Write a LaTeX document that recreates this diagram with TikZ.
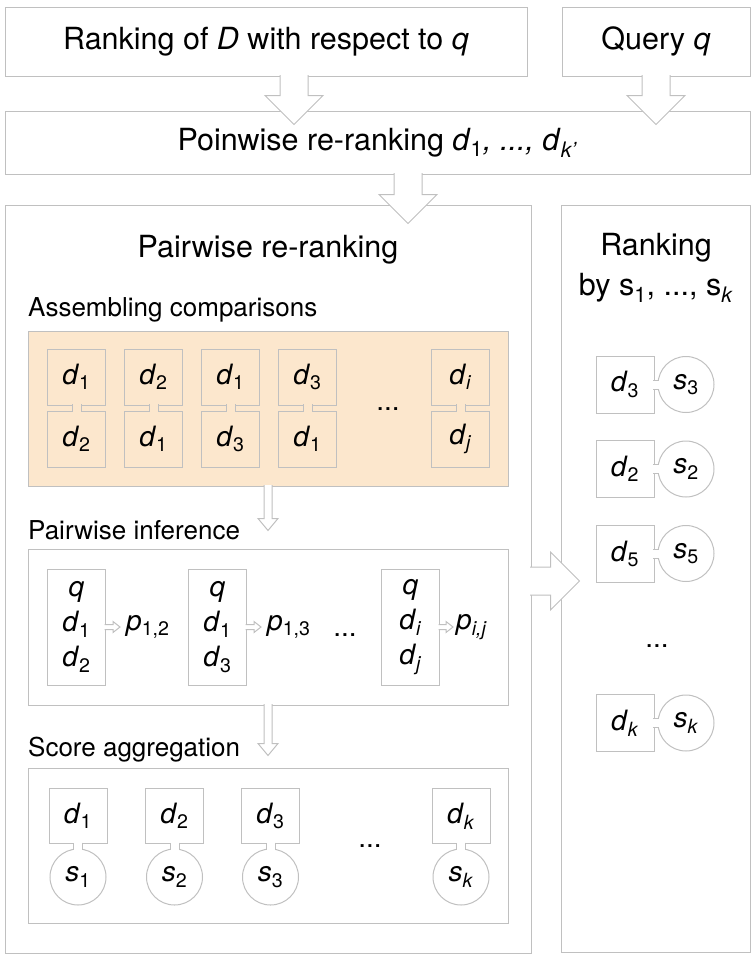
\documentclass[tikz,border=0pt]{standalone}
\usepackage{fontspec}
\setmainfont{TeX Gyre Heros}
\usetikzlibrary{calc,positioning}

\definecolor{linegray}{RGB}{192,192,192}
\definecolor{peach}{RGB}{252,231,205}

\newcommand{\docd}[1]{\textit{d}\textsubscript{#1}}
\newcommand{\scoresym}[1]{\textit{s}\textsubscript{#1}}

\tikzset{
  frame/.style={draw=linegray, line width=1pt, inner sep=0pt},
  title/.style={font=\fontsize{30.5}{40}\selectfont},
  section/.style={font=\fontsize{26}{30}\selectfont, anchor=west, inner sep=0pt},
  item/.style={frame, minimum width=58pt, minimum height=56pt,
    font=\fontsize{28}{35}\selectfont},
  score/.style={draw=linegray, line width=1pt, circle, minimum size=56pt,
    inner sep=0pt, font=\fontsize{28}{35}\selectfont},
  neck/.style={double=#1, double distance=8pt, draw=linegray, line width=1pt,
    shorten <=-1.5pt, shorten >=-1.5pt},
  neck/.default=white,
  fatdown/.style n args={3}{draw=linegray, line width=1pt, fill=white,
    to path={($(\tikztostart)+(-#1,0)$) -- ($(\tikztotarget)+(-#1,-#3)$)
      -- ($(\tikztotarget)+(-#2,-#3)$) -- (\tikztotarget)
      -- ($(\tikztotarget)+(#2,-#3)$) -- ($(\tikztotarget)+(#1,-#3)$)
      -- ($(\tikztostart)+(#1,0)$)}},
  fatright/.style n args={3}{draw=linegray, line width=1pt, fill=white,
    to path={($(\tikztostart)+(0,-#1)$) -- ($(\tikztotarget)+(-#3,-#1)$)
      -- ($(\tikztotarget)+(-#3,-#2)$) -- (\tikztotarget)
      -- ($(\tikztotarget)+(-#3,#2)$) -- ($(\tikztotarget)+(-#3,#1)$)
      -- ($(\tikztostart)+(0,#1)$)}},
  bigdown/.style={fatdown={14}{29}{29}},
  smalldown/.style={fatdown={4}{10}{12}},
  bigright/.style={fatright={14}{29}{29}},
  tinyright/.style={fatright={2.5}{5.5}{7}},
  plabel/.style={inner sep=0pt, font=\fontsize{28}{35}\selectfont}
}

\begin{document}
\begin{tikzpicture}[x=1pt,y=-1pt]
  \useasboundingbox (0,0) rectangle (753,956);
  % input and first stage
  \node[frame, title, minimum width=522pt, minimum height=69pt] (rank) at (266,41.5)
    {Ranking of \textit{D} with respect to \textit{q}};
  \node[frame, title, minimum width=188pt, minimum height=69pt] (query) at (656,41.5)
    {Query \textit{q}};
  \node[frame, title, minimum width=745pt, minimum height=63pt] (point) at (377.5,142.5)
    {Poinwise re-ranking \docd{1}\textit{, ..., }\docd{\textit{k'}}};
  % the two columns
  \node[frame, minimum width=526pt, minimum height=748pt] (pair) at (268,579) {};
  \node[frame, minimum width=189pt, minimum height=747pt] (order) at (655.5,578.5) {};
  \node[title] (pairtitle) at (268,250) {Pairwise re-ranking};
  \node[title, align=center] (ordertitle) at (656,268)
    {Ranking\\by s\textsubscript{1}, ..., s\textsubscript{\textit{k}}};
  % assembling comparisons
  \node[section] (asmlabel) at (28,310) {Assembling comparisons};
  \node[frame, fill=peach, minimum width=480pt, minimum height=155pt] (asm) at (268,408.5) {};
  \foreach \i/\ta/\tb in {1/1/2, 2/2/1, 3/1/3, 4/3/1} {
    \node[item] (up\i) at ({77*\i-0.5},377) {\docd{\ta}};
    \node[item] (lo\i) at ({77*\i-0.5},439) {\docd{\tb}};
    \draw[neck=peach] (up\i) -- (lo\i);
  }
  \node[item] (up5) at (460.5,377) {\docd{\textit{i}}};
  \node[item] (lo5) at (460.5,439) {\docd{\textit{j}}};
  \draw[neck=peach] (up5) -- (lo5);
  \node[plabel, anchor=base] (asmdots) at (388,410) {...};
  % pairwise inference
  \node[section] (inflabel) at (28,530) {Pairwise inference};
  \node[frame, minimum width=480pt, minimum height=156pt] (inf) at (268,627) {};
  \node[item, minimum height=116pt, align=center] (in1) at (76.5,627)
    {\textit{q}\\\docd{1}\\\docd{2}};
  \node[item, minimum height=116pt, align=center] (in2) at (217.5,627)
    {\textit{q}\\\docd{1}\\\docd{3}};
  \node[item, minimum height=116pt, align=center] (in3) at (410.5,627)
    {\textit{q}\\\docd{\textit{i}}\\\docd{\textit{j}}};
  \node[plabel, right=20pt of in1] (p12) {\textit{p}\textsubscript{1,2}};
  \node[plabel, right=20pt of in2] (p13) {\textit{p}\textsubscript{1,3}};
  \node[plabel, right=16pt of in3] (pij) {\textit{p}\textsubscript{\textit{i,j}}};
  \node[plabel, anchor=base] (infdots) at (345,636) {...};
  \draw[tinyright] ($(in1.east)+(-1.5,0)$) to ($(p12.west)+(-6,0)$);
  \draw[tinyright] ($(in2.east)+(-1.5,0)$) to ($(p13.west)+(-6,0)$);
  \draw[tinyright] ($(in3.east)+(-1.5,0)$) to ($(pij.west)+(-3,0)$);
  % score aggregation
  \node[section] (agglabel) at (28,750) {Score aggregation};
  \node[frame, minimum width=480pt, minimum height=155pt] (agg) at (268,845.5) {};
  \foreach \i/\x/\k in {1/78/1, 2/174.5/2, 3/270.5/3, 4/461/\textit{k}} {
    \node[item, minimum height=55pt] (ad\i) at (\x,816) {\docd{\k}};
    \node[score] (as\i) at (\x,877) {\scoresym{\k}};
    \draw[neck] (ad\i) -- (as\i);
  }
  \node[plabel, anchor=base] (aggdots) at (370,847) {...};
  % ranking by score
  \foreach \r/\y [count=\n] in {3/384.5, 2/469, 5/553.5, \textit{k}/723} {
    \node[item, minimum height=57pt] (rd\n) at (625,\y) {\docd{\r}};
    \node[score] (rs\n) at (686,\y) {\scoresym{\r}};
    \draw[neck] (rd\n) -- (rs\n);
  }
  \node[plabel, anchor=base] (orderdots) at (657,647) {...};
  % hollow arrows
  \draw[bigdown] ($(rank.south)+(28,-1.5)$) to ++(0,49.5);
  \draw[bigdown] ($(query.south)+(0,-1.5)$) to ++(0,49.5);
  \draw[bigdown] ($(point.south)+(30.5,-1.5)$) to ++(0,50.5);
  \draw[smalldown] ($(asm.south)+(0,-1.5)$) to ++(0,45.5);
  \draw[smalldown] ($(inf.south)+(0,-1.5)$) to ++(0,51.5);
  \draw[bigright] ($(pair.east)+(-1.5,2)$) to ++(49.5,0);
\end{tikzpicture}
\end{document}
